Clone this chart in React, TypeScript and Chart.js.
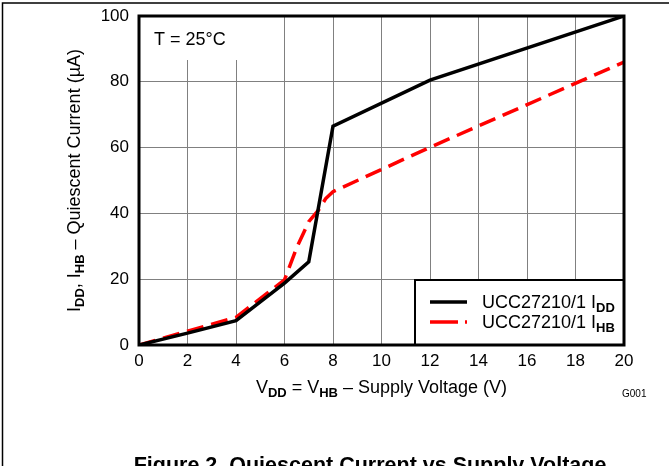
import React, { useEffect, useRef } from "react";
import { Chart, registerables } from "chart.js";

Chart.register(...registerables);

const lddVoltage = [0, 2, 4, 6, 7, 8, 12, 20];
const lddCurrent = [0, 3.6, 7.4, 18.8, 25.3, 66.5, 80.5, 100];
const lhbVoltage = [0, 2, 4, 6, 6.5, 7, 7.4, 7.7, 8, 12, 20];
const lhbCurrent = [0, 4.2, 8.4, 19.8, 29.5, 37.5, 41, 44.5, 46.6, 60.1, 86];
const xTicks = { min: 0, max: 20, step: 2 };
const yTicks = { min: 0, max: 100, step: 20 };
const legendNames = ["UCC27210/1 I", "UCC27210/1 I"];
const legendSubs = ["DD", "HB"];

const FONT = "'Liberation Sans', Arial, sans-serif";

type Seg = { t: string; f: string; dy: number };

function richWidth(ctx: CanvasRenderingContext2D, segs: Seg[]) {
  let w = 0;
  for (const s of segs) {
    ctx.font = s.f;
    w += ctx.measureText(s.t).width;
  }
  return w;
}

function drawRich(ctx: CanvasRenderingContext2D, segs: Seg[], x: number, y: number, align: "left" | "center") {
  const w = richWidth(ctx, segs);
  let cx = align === "center" ? x - w / 2 : x;
  ctx.textAlign = "left";
  ctx.textBaseline = "alphabetic";
  for (const s of segs) {
    ctx.font = s.f;
    ctx.fillText(s.t, cx, y + s.dy);
    cx += ctx.measureText(s.t).width;
  }
}

const decorPlugin = {
  id: "decor",
  afterDraw(chart: any) {
    const ctx: CanvasRenderingContext2D = chart.ctx;
    const a = chart.chartArea;
    ctx.save();
    ctx.fillStyle = "#000";
    const reg = `18px ${FONT}`;
    const sub = `bold 13px ${FONT}`;

    // page frame
    ctx.strokeStyle = "#000";
    ctx.lineWidth = 1.5;
    ctx.beginPath();
    ctx.moveTo(2.5, 466);
    ctx.lineTo(2.5, 3);
    ctx.lineTo(669, 3);
    ctx.stroke();

    // white box behind temperature label
    ctx.fillStyle = "#fff";
    ctx.fillRect(a.left, a.top, 108, 44);
    // legend box
    const lx = 415, ly = 280;
    ctx.fillRect(lx, ly, a.right - lx, a.bottom - ly);
    ctx.strokeStyle = "#000";
    ctx.lineWidth = 2;
    ctx.strokeRect(lx, ly, a.right - lx, a.bottom - ly);

    // plot border
    ctx.lineWidth = 3;
    ctx.strokeRect(a.left, a.top, a.right - a.left, a.bottom - a.top);

    ctx.fillStyle = "#000";
    ctx.font = reg;
    ctx.textAlign = "left";
    ctx.fillText("T = 25°C", 154, 45);

    // legend entries
    const rows = [302, 322];
    ctx.lineWidth = 3.5;
    ctx.strokeStyle = "#000";
    ctx.beginPath();
    ctx.moveTo(430, rows[0]);
    ctx.lineTo(467, rows[0]);
    ctx.stroke();
    ctx.strokeStyle = "#ff0000";
    ctx.beginPath();
    ctx.moveTo(430, rows[1]);
    ctx.lineTo(458, rows[1]);
    ctx.moveTo(465, rows[1]);
    ctx.lineTo(467, rows[1]);
    ctx.stroke();
    ctx.fillStyle = "#000";
    for (let i = 0; i < 2; i++) {
      drawRich(ctx, [
        { t: legendNames[i], f: reg, dy: 0 },
        { t: legendSubs[i], f: sub, dy: 4 },
      ], 482, rows[i] + 6, "left");
    }

    // x title
    drawRich(ctx, [
      { t: "V", f: reg, dy: 0 },
      { t: "DD", f: sub, dy: 4 },
      { t: " = V", f: reg, dy: 0 },
      { t: "HB", f: sub, dy: 4 },
      { t: " – Supply Voltage (V)", f: reg, dy: 0 },
    ], (a.left + a.right) / 2, 393, "center");

    // y title
    ctx.save();
    ctx.translate(80, (a.top + a.bottom) / 2);
    ctx.rotate(-Math.PI / 2);
    drawRich(ctx, [
      { t: "I", f: reg, dy: 0 },
      { t: "DD", f: sub, dy: 4 },
      { t: ", I", f: reg, dy: 0 },
      { t: "HB", f: sub, dy: 4 },
      { t: " – Quiescent Current (µA)", f: reg, dy: 0 },
    ], 0, 0, "center");
    ctx.restore();

    // G001
    ctx.font = `10px ${FONT}`;
    ctx.fillText("G001", 622, 397);

    // caption
    ctx.font = `bold 21.5px ${FONT}`;
    ctx.textAlign = "center";
    ctx.fillText("Figure 2. Quiescent Current vs Supply Voltage", 370, 472);
    ctx.restore();
  },
};

export default function App() {
  const ref = useRef<HTMLCanvasElement | null>(null);
  useEffect(() => {
    if (!ref.current) return;
    const chart = new Chart(ref.current, {
      type: "line",
      data: {
        datasets: [
          {
            label: "UCC27210/1 IDD",
            data: lddVoltage.map((v, i) => ({ x: v, y: lddCurrent[i] })),
            borderColor: "#000",
            borderWidth: 3.5,
            pointRadius: 0,
            tension: 0,
            fill: false,
          },
          {
            label: "UCC27210/1 IHB",
            data: lhbVoltage.map((v, i) => ({ x: v, y: lhbCurrent[i] })),
            borderColor: "#ff0000",
            borderWidth: 3.5,
            borderDash: [17, 8],
            pointRadius: 0,
            tension: 0,
            fill: false,
          },
        ],
      },
      options: {
        responsive: false,
        animation: false,
        devicePixelRatio: 1,
        layout: { padding: { left: 0, top: 16, right: 45, bottom: 91 } },
        plugins: { legend: { display: false }, tooltip: { enabled: false } },
        scales: {
          x: {
            type: "linear",
            min: xTicks.min,
            max: xTicks.max,
            afterFit: (s: any) => { s.height = 30; s.paddingLeft = 0; s.paddingRight = 0; },
            ticks: { stepSize: xTicks.step, color: "#000", font: { family: FONT, size: 17 }, padding: 6, maxRotation: 0 },
            grid: { color: "#808080", lineWidth: 1, drawTicks: false },
            border: { display: false },
          },
          y: {
            type: "linear",
            min: yTicks.min,
            max: yTicks.max,
            afterFit: (s: any) => { s.width = 139; s.paddingTop = 0; s.paddingBottom = 0; },
            ticks: { stepSize: yTicks.step, color: "#000", font: { family: FONT, size: 17 }, padding: 10 },
            grid: { color: "#808080", lineWidth: 1, drawTicks: false },
            border: { display: false },
          },
        },
      },
      plugins: [decorPlugin],
    } as any);
    return () => chart.destroy();
  }, []);
  return (
    <div style={{ position: "fixed", left: 0, top: 0, width: 669, height: 466, background: "#fff" }}>
      <canvas ref={ref} width={669} height={466} style={{ display: "block" }} />
    </div>
  );
}
